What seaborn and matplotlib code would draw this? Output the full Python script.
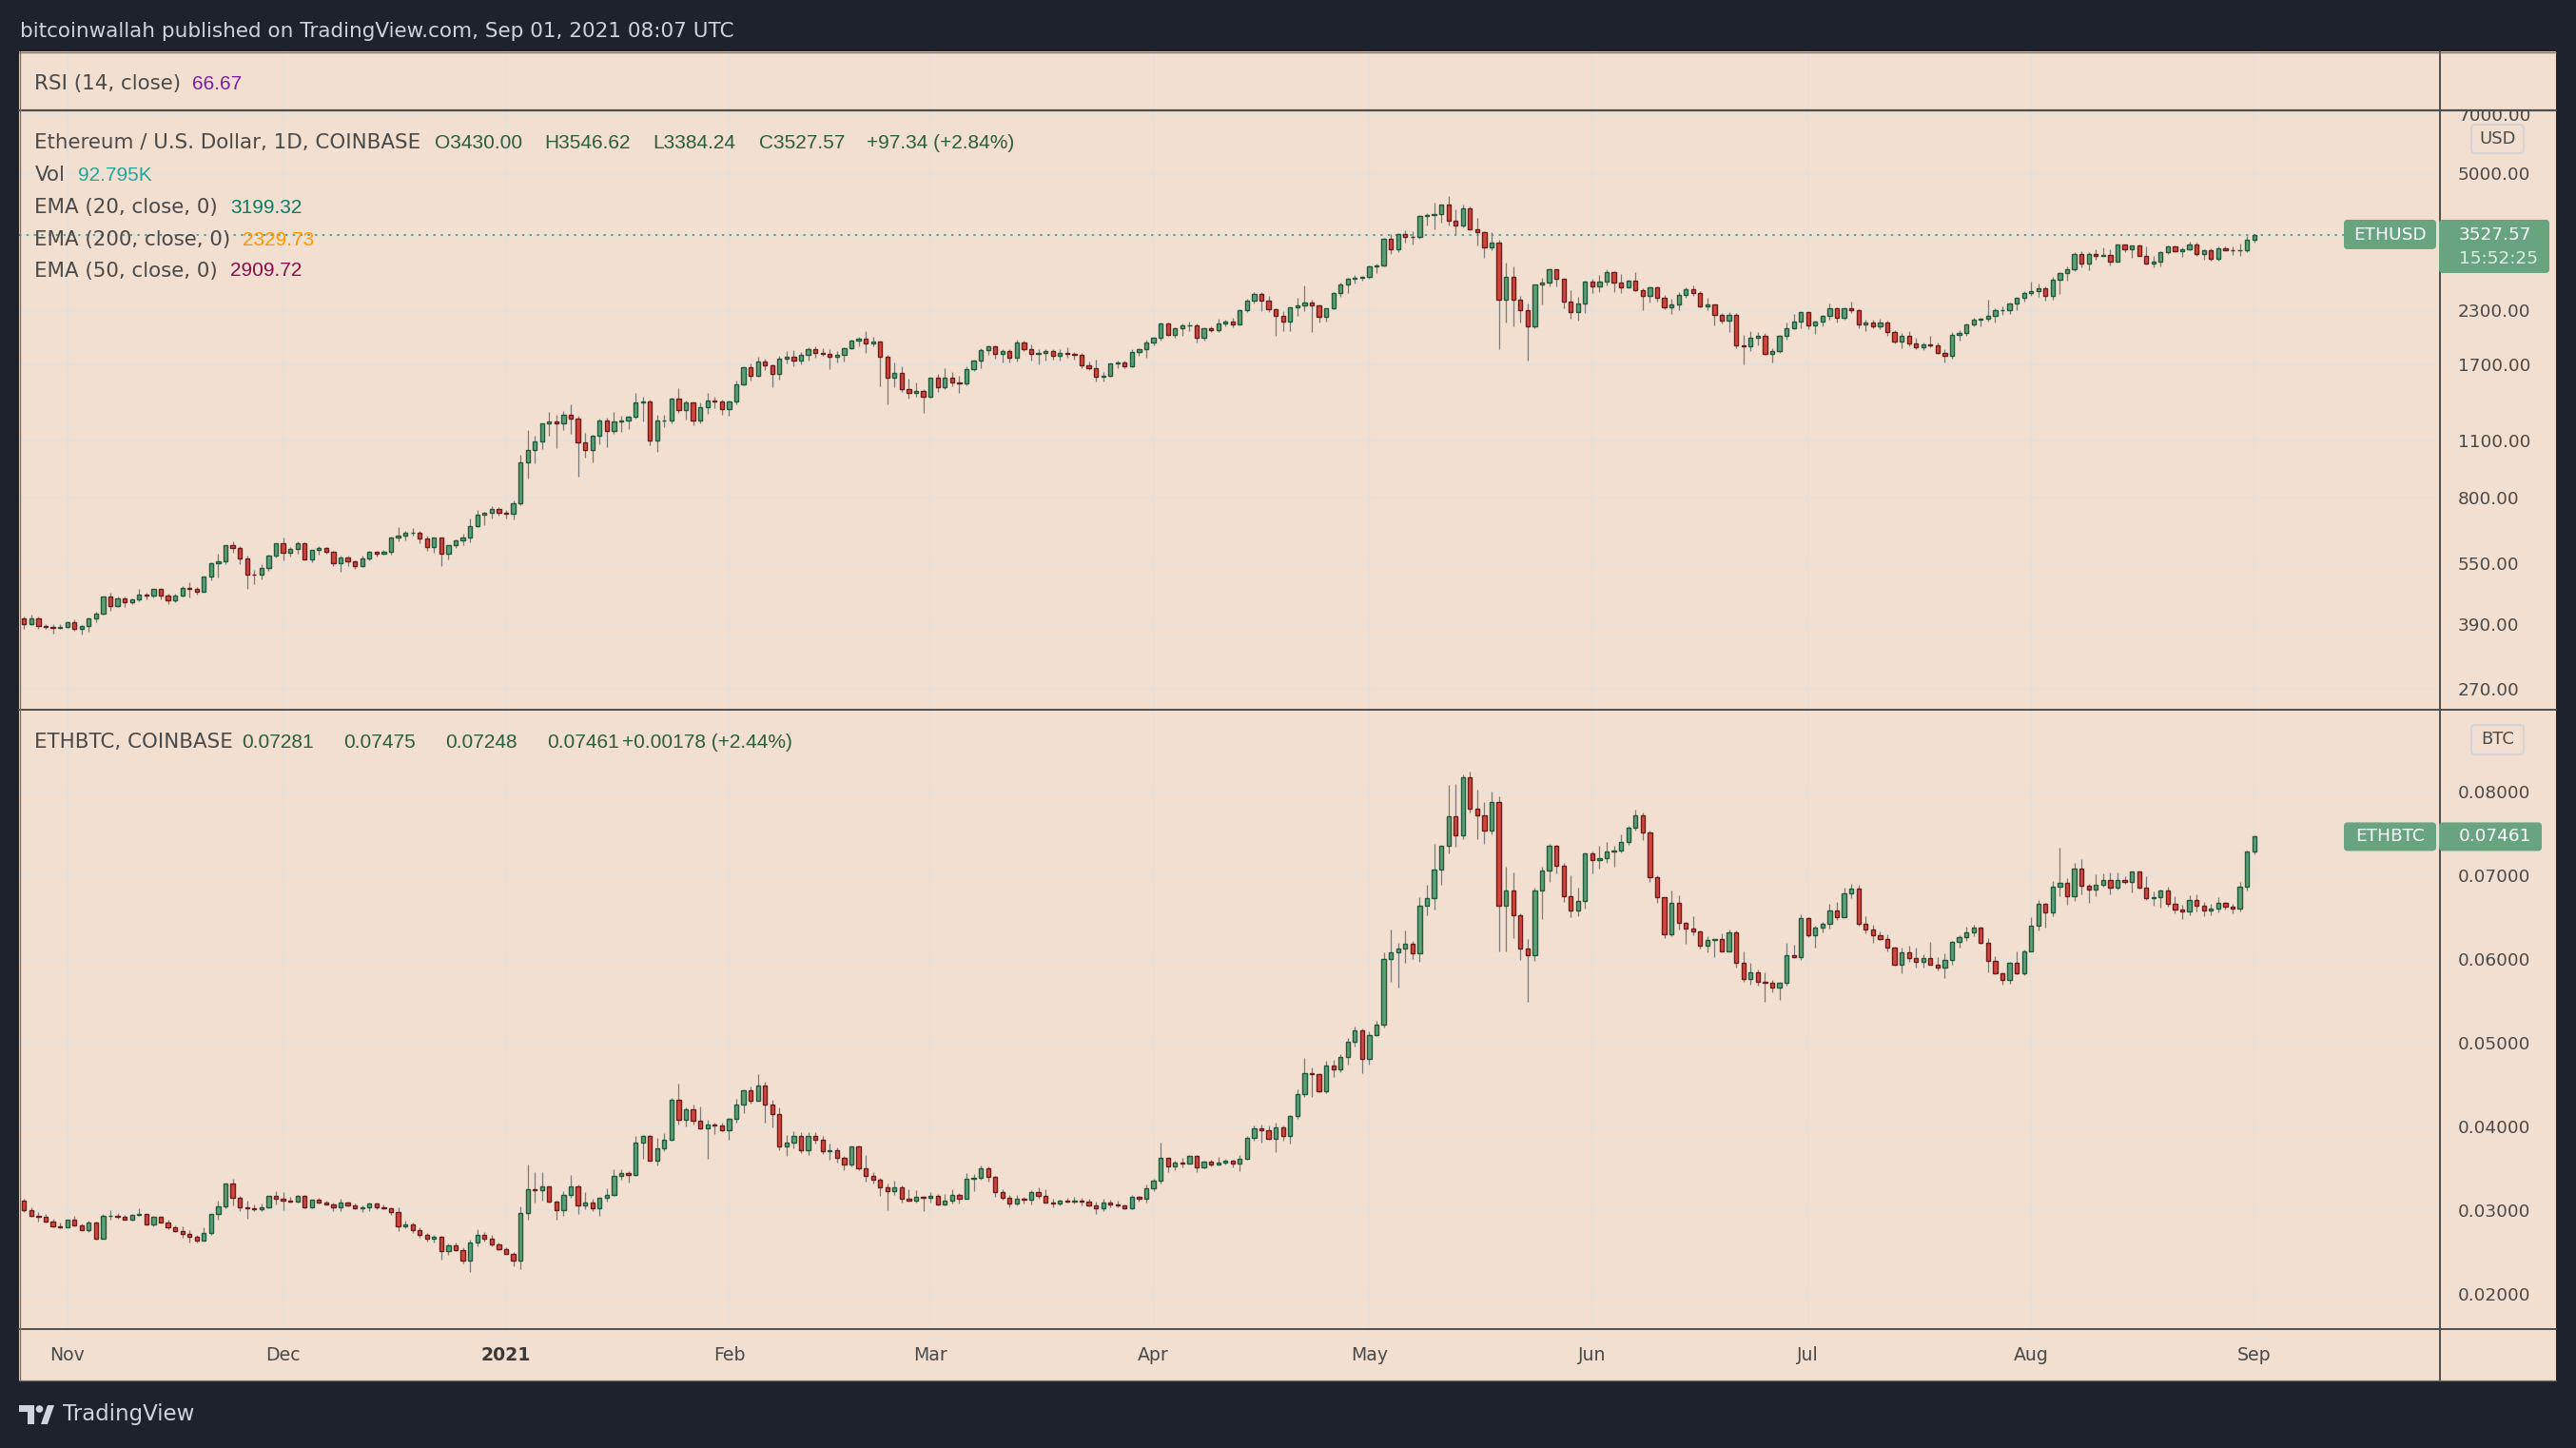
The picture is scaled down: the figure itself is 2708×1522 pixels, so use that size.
import numpy as np
import pandas as pd
import matplotlib
matplotlib.use("Agg")
import matplotlib.pyplot as plt
import seaborn as sns
from matplotlib.patches import Rectangle, FancyBboxPatch, Circle, Polygon
from matplotlib.lines import Line2D
from matplotlib.transforms import IdentityTransform
from matplotlib.ticker import NullLocator, NullFormatter

# ETH/USD daily candles (Coinbase), 26 Oct 2020 -> 1 Sep 2021
usd_first_open = 403
usd_close = [
    390, 402, 387, 384, 381, 385,
    395, 380, 387, 402, 415, 455, 432, 452, 442, 450, 462, 458, 475, 458, 446, 459, 480, 477, 468, 510,
    552, 558, 609, 600, 566, 517, 516, 535, 575, 616,
    584, 596, 616, 563, 595, 599, 587, 550, 570, 556, 542, 567, 589, 581, 586, 636, 642, 653, 655, 634,
    605, 636, 581, 611, 626, 636, 680, 726, 731, 750, 732,
    728, 771, 976, 1043, 1098, 1212, 1225, 1214, 1276, 1247, 1088, 1047, 1131, 1232, 1166, 1225, 1232,
    1259, 1365, 1375, 1104, 1232, 1236, 1398, 1312, 1365, 1236, 1328, 1380, 1375, 1314,
    1372, 1511, 1666, 1592, 1720, 1684, 1610, 1748, 1770, 1736, 1786, 1845, 1812, 1799, 1773, 1789,
    1855, 1936, 1958, 1912, 1933, 1773, 1575, 1620, 1478, 1441, 1456, 1415,
    1569, 1488, 1569, 1533, 1525, 1648, 1730, 1835, 1875, 1796, 1825, 1764, 1923, 1845, 1796, 1812,
    1828, 1776, 1809, 1799, 1786, 1684, 1663, 1581, 1590, 1701, 1711, 1679, 1820, 1851, 1921,
    1973, 2138, 2008, 2077, 2115, 2119, 1969, 2077, 2058, 2134, 2161, 2130, 2300, 2432, 2521, 2428,
    2321, 2234, 2165, 2346, 2367, 2407, 2371, 2215, 2325, 2534, 2669, 2748, 2763, 2778,
    2948, 2964, 3445, 3246, 3538, 3494, 3482, 3926, 3947, 3969, 4181, 3829, 3727, 4100, 3649, 3589,
    3281, 3384, 2441, 2778, 2441, 2300, 2100, 2660, 2698, 2900, 2748, 2416, 2276, 2395, 2708,
    2636, 2703, 2859, 2688, 2626, 2722, 2586, 2502, 2621, 2467, 2341, 2381, 2508, 2590, 2544, 2360,
    2381, 2238, 2167, 2238, 1885, 1881, 1967, 1990, 1803, 1825, 1990, 2084, 2164, 2275,
    2110, 2156, 2226, 2326, 2203, 2326, 2309, 2121, 2149, 2106, 2149, 2032, 1932, 1990, 1912, 1871,
    1894, 1888, 1813, 1784, 2000, 2025, 2127, 2190, 2194, 2230, 2305, 2305, 2389, 2468, 2535,
    2567, 2603, 2504, 2738, 2843, 2903, 3165, 3007, 3165, 3137, 3148, 3038, 3335, 3258, 3323, 3137,
    3007, 3028, 3193, 3300, 3222, 3250, 3335, 3170, 3234, 3087, 3276, 3240, 3228, 3240, 3426,
    3527.57,
]
usd_high = [
    408, 411, 408, 391, 391, 391,
    397, 401, 389, 405, 419, 457, 467, 457, 457, 452, 475, 467, 477, 477, 463, 464, 484, 495, 481, 512,
    555, 580, 609, 622, 606, 574, 529, 547, 577, 616,
    637, 602, 622, 619, 595, 606, 603, 592, 576, 575, 561, 574, 592, 589, 595, 639, 674, 663, 671, 661,
    645, 636, 634, 611, 630, 650, 711, 745, 738, 760, 757,
    745, 787, 1017, 1167, 1135, 1212, 1296, 1274, 1306, 1352, 1265, 1149, 1138, 1248, 1255, 1295, 1268,
    1265, 1444, 1410, 1390, 1274, 1272, 1403, 1482, 1380, 1372, 1365, 1444, 1410, 1388,
    1385, 1547, 1678, 1705, 1770, 1751, 1699, 1783, 1824, 1838, 1818, 1872, 1878, 1858, 1845, 1828,
    1865, 1954, 1986, 2047, 1982, 1936, 1789, 1714, 1678, 1561, 1530, 1472,
    1575, 1604, 1657, 1624, 1586, 1678, 1742, 1855, 1885, 1885, 1851, 1851, 1947, 1940, 1895, 1851,
    1851, 1845, 1845, 1868, 1818, 1805, 1723, 1739, 1624, 1701, 1736, 1734, 1845, 1861, 1948,
    1983, 2150, 2150, 2088, 2142, 2158, 2134, 2088, 2100, 2196, 2181, 2203, 2313, 2458, 2548, 2548,
    2494, 2333, 2292, 2346, 2472, 2650, 2441, 2380, 2333, 2553, 2688, 2763, 2814, 2804,
    2969, 3001, 3463, 3538, 3563, 3617, 3611, 3947, 3990, 4234, 4188, 4398, 4078, 4181, 4144, 3884,
    3595, 3583, 3439, 3018, 2948, 2494, 2390, 2660, 2773, 2916, 2900, 2758, 2582, 2489, 2722,
    2748, 2809, 2900, 2875, 2829, 2732, 2865, 2612, 2636, 2631, 2513, 2459, 2549, 2622, 2650, 2562,
    2468, 2381, 2267, 2275, 2267, 2003, 2047, 2036, 2025, 1857, 2003, 2149, 2254, 2284,
    2284, 2167, 2243, 2394, 2339, 2343, 2415, 2322, 2190, 2190, 2194, 2167, 2055, 2021, 2047, 1971,
    1919, 1990, 1919, 1847, 2036, 2062, 2142, 2207, 2207, 2445, 2330, 2356, 2402, 2477, 2567,
    2708, 2674, 2636, 2783, 2863, 2951, 3204, 3210, 3204, 3253, 3288, 3253, 3347, 3347, 3329, 3347,
    3300, 3131, 3210, 3317, 3317, 3294, 3390, 3378, 3253, 3264, 3300, 3311, 3311, 3353, 3500,
    3546.62,
]
usd_low = [
    380, 388, 379, 379, 370, 379,
    382, 376, 368, 374, 394, 411, 421, 429, 429, 437, 445, 448, 454, 448, 437, 442, 456, 453, 460, 468,
    499, 507, 548, 584, 549, 475, 488, 502, 527, 569,
    559, 571, 581, 562, 555, 578, 580, 541, 526, 541, 532, 539, 559, 571, 578, 577, 622, 625, 642, 616,
    592, 583, 543, 562, 599, 609, 619, 675, 682, 711, 719,
    711, 707, 764, 891, 967, 1049, 1135, 1054, 1167, 1144, 900, 1003, 976, 1080, 1064, 1147, 1160,
    1178, 1248, 1230, 1075, 1036, 1190, 1216, 1288, 1241, 1203, 1216, 1284, 1326, 1274,
    1270, 1353, 1503, 1544, 1581, 1645, 1490, 1558, 1707, 1680, 1698, 1736, 1764, 1780, 1651, 1714,
    1723, 1845, 1878, 1812, 1878, 1498, 1353, 1488, 1454, 1400, 1415, 1290,
    1408, 1454, 1475, 1498, 1441, 1509, 1630, 1663, 1792, 1755, 1717, 1717, 1726, 1828, 1736, 1698,
    1736, 1745, 1730, 1761, 1745, 1657, 1639, 1541, 1541, 1584, 1663, 1662, 1667, 1780, 1763,
    1885, 1945, 1995, 1973, 1995, 2043, 1924, 1941, 2036, 2040, 2104, 2092, 2123, 2284, 2399, 2296,
    2284, 1995, 2047, 2051, 2234, 2296, 2036, 2150, 2165, 2313, 2480, 2544, 2674, 2727,
    2758, 2844, 2948, 3166, 3200, 3378, 3341, 3457, 3720, 3649, 3781, 3720, 3538, 3688, 3636, 3329,
    3104, 3240, 1851, 2154, 2107, 2150, 1730, 2077, 2387, 2640, 2636, 2325, 2196, 2177, 2272,
    2534, 2548, 2655, 2558, 2544, 2616, 2572, 2308, 2403, 2424, 2318, 2258, 2309, 2468, 2499, 2343,
    2305, 2118, 2134, 2040, 1857, 1698, 1825, 1885, 1787, 1716, 1806, 1953, 2073, 2080,
    2073, 2018, 2106, 2190, 2152, 2190, 2267, 2084, 2047, 2077, 2073, 1997, 1912, 1861, 1878, 1850,
    1840, 1871, 1803, 1716, 1755, 1943, 1997, 2106, 2106, 2156, 2152, 2247, 2254, 2309, 2419,
    2499, 2490, 2437, 2450, 2531, 2718, 2868, 2940, 2888, 3059, 3126, 2967, 3038, 3205, 3104, 3126,
    2985, 2940, 2951, 3170, 3205, 3115, 3228, 3131, 3070, 3048, 3053, 3228, 3153, 3137, 3193,
    3384.24,
]

# ETH/BTC daily candles (Coinbase), same dates
btc_first_open = 0.03114
btc_close = [
    0.03004, 0.02936, 0.02924, 0.02867, 0.02810, 0.02795,
    0.02883, 0.02822, 0.02765, 0.02848, 0.02663, 0.02928, 0.02932, 0.02917, 0.02890, 0.02940,
    0.02951, 0.02833, 0.02917, 0.02856, 0.02799, 0.02754, 0.02719, 0.02685, 0.02640, 0.02731,
    0.02951, 0.03042, 0.03314, 0.03152, 0.03038, 0.03027, 0.03015, 0.03034, 0.03167, 0.03133,
    0.03118, 0.03106, 0.03170, 0.03038, 0.03121, 0.03095, 0.03072, 0.03030, 0.03087, 0.03061,
    0.03019, 0.03030, 0.03076, 0.03038, 0.03027, 0.02981, 0.02810, 0.02826, 0.02758, 0.02708,
    0.02663, 0.02678, 0.02515, 0.02580, 0.02527, 0.02402, 0.02614, 0.02701, 0.02663, 0.02591, 0.02538,
    0.02481, 0.02402, 0.02962, 0.03246, 0.03239, 0.03280, 0.03099, 0.02996, 0.03178, 0.03280,
    0.03061, 0.03091, 0.03019, 0.03144, 0.03182, 0.03409, 0.03443, 0.03424, 0.03807, 0.03883,
    0.03595, 0.03735, 0.03837, 0.04318, 0.04083, 0.04201, 0.04072, 0.03974, 0.04019, 0.04011, 0.03958,
    0.04095, 0.04258, 0.04428, 0.04311, 0.04485, 0.04265, 0.04151, 0.03765, 0.03803, 0.03883,
    0.03720, 0.03883, 0.03845, 0.03701, 0.03716, 0.03621, 0.03542, 0.03758, 0.03496, 0.03413,
    0.03360, 0.03277, 0.03223, 0.03269, 0.03140, 0.03117, 0.03155, 0.03144,
    0.03170, 0.03064, 0.03110, 0.03178, 0.03133, 0.03371, 0.03386, 0.03496, 0.03401, 0.03212,
    0.03151, 0.03083, 0.03133, 0.03125, 0.03220, 0.03167, 0.03087, 0.03076, 0.03110, 0.03106,
    0.03117, 0.03102, 0.03061, 0.03019, 0.03087, 0.03068, 0.03061, 0.03019, 0.03155, 0.03133, 0.03258,
    0.03349, 0.03621, 0.03519, 0.03564, 0.03557, 0.03644, 0.03508, 0.03583, 0.03549, 0.03564,
    0.03591, 0.03561, 0.03610, 0.03860, 0.03974, 0.03951, 0.03856, 0.03985, 0.03883, 0.04121,
    0.04383, 0.04633, 0.04625, 0.04417, 0.04724, 0.04686, 0.04833, 0.05008, 0.05144, 0.04803,
    0.05087, 0.05212, 0.05996, 0.06083, 0.06129, 0.06178, 0.06064, 0.06640, 0.06731, 0.07064,
    0.07356, 0.07708, 0.07473, 0.08167, 0.07792, 0.07712, 0.07534, 0.07871, 0.06633, 0.06822,
    0.06519, 0.06121, 0.06042, 0.06818, 0.07053, 0.07349, 0.07110, 0.06754, 0.06576, 0.06690, 0.07258,
    0.07178, 0.07201, 0.07280, 0.07292, 0.07394, 0.07568, 0.07712, 0.07508, 0.06973, 0.06735,
    0.06292, 0.06667, 0.06428, 0.06364, 0.06326, 0.06163, 0.06223, 0.06235, 0.06095, 0.06314,
    0.05958, 0.05765, 0.05837, 0.05731, 0.05720, 0.05663, 0.05712, 0.06042, 0.06027, 0.06485,
    0.06280, 0.06371, 0.06420, 0.06576, 0.06504, 0.06780, 0.06837, 0.06424, 0.06348, 0.06288,
    0.06235, 0.06133, 0.05928, 0.06076, 0.06015, 0.05970, 0.06015, 0.05936, 0.05894, 0.05985,
    0.06201, 0.06258, 0.06314, 0.06371, 0.06189, 0.05973, 0.05826, 0.05746, 0.05951, 0.05826, 0.06095,
    0.06402, 0.06655, 0.06561, 0.06860, 0.06913, 0.06746, 0.07076, 0.06871, 0.06826, 0.06883,
    0.06939, 0.06856, 0.06939, 0.06924, 0.07042, 0.06848, 0.06731, 0.06742, 0.06814, 0.06655,
    0.06595, 0.06572, 0.06701, 0.06640, 0.06583, 0.06598, 0.06667, 0.06629, 0.06606, 0.06860, 0.07284,
    0.07461,
]
btc_high = [
    0.03136, 0.03034, 0.02977, 0.02955, 0.02894, 0.02852,
    0.02883, 0.02932, 0.02841, 0.02875, 0.02860, 0.02955, 0.03000, 0.02962, 0.02940, 0.02955,
    0.03023, 0.02955, 0.02928, 0.02928, 0.02883, 0.02818, 0.02803, 0.02758, 0.02701, 0.02795,
    0.02955, 0.03114, 0.03322, 0.03375, 0.03174, 0.03114, 0.03068, 0.03080, 0.03174, 0.03227,
    0.03216, 0.03155, 0.03182, 0.03182, 0.03121, 0.03144, 0.03118, 0.03087, 0.03133, 0.03102,
    0.03076, 0.03057, 0.03095, 0.03087, 0.03068, 0.03038, 0.03034, 0.02875, 0.02852, 0.02795,
    0.02727, 0.02705, 0.02689, 0.02599, 0.02610, 0.02553, 0.02644, 0.02773, 0.02739, 0.02701, 0.02614,
    0.02557, 0.02500, 0.03042, 0.03545, 0.03455, 0.03455, 0.03292, 0.03118, 0.03227, 0.03420,
    0.03307, 0.03216, 0.03136, 0.03151, 0.03261, 0.03489, 0.03489, 0.03466, 0.03886, 0.03898,
    0.03898, 0.03860, 0.03920, 0.04341, 0.04511, 0.04227, 0.04258, 0.04235, 0.04080, 0.04042, 0.04042,
    0.04102, 0.04326, 0.04443, 0.04477, 0.04625, 0.04534, 0.04318, 0.04227, 0.03898, 0.03939,
    0.03932, 0.03928, 0.03932, 0.03883, 0.03795, 0.03746, 0.03644, 0.03758, 0.03769, 0.03659,
    0.03455, 0.03386, 0.03314, 0.03352, 0.03295, 0.03250, 0.03239, 0.03174,
    0.03212, 0.03197, 0.03189, 0.03250, 0.03208, 0.03439, 0.03432, 0.03534, 0.03523, 0.03409,
    0.03250, 0.03182, 0.03182, 0.03159, 0.03235, 0.03273, 0.03250, 0.03133, 0.03125, 0.03151,
    0.03155, 0.03144, 0.03136, 0.03102, 0.03136, 0.03125, 0.03114, 0.03068, 0.03182, 0.03174, 0.03307,
    0.03379, 0.03807, 0.03629, 0.03591, 0.03621, 0.03659, 0.03659, 0.03591, 0.03602, 0.03637,
    0.03618, 0.03606, 0.03659, 0.03883, 0.04008, 0.04019, 0.04008, 0.04046, 0.04008, 0.04136,
    0.04443, 0.04822, 0.04705, 0.04633, 0.04780, 0.04795, 0.04860, 0.05057, 0.05189, 0.05167,
    0.05136, 0.05258, 0.06080, 0.06352, 0.06193, 0.06341, 0.06216, 0.06735, 0.06886, 0.07375,
    0.07356, 0.08080, 0.08091, 0.08201, 0.08239, 0.08023, 0.07879, 0.08000, 0.07943, 0.07102,
    0.07034, 0.06546, 0.06239, 0.06849, 0.07106, 0.07379, 0.07360, 0.07144, 0.07000, 0.06849, 0.07273,
    0.07284, 0.07352, 0.07398, 0.07352, 0.07485, 0.07591, 0.07784, 0.07746, 0.07534, 0.07000,
    0.06743, 0.06818, 0.06761, 0.06443, 0.06508, 0.06345, 0.06269, 0.06235, 0.06303, 0.06352,
    0.06341, 0.06091, 0.05955, 0.05875, 0.05837, 0.05750, 0.05723, 0.06193, 0.06170, 0.06534,
    0.06496, 0.06398, 0.06443, 0.06659, 0.06682, 0.06852, 0.06898, 0.06886, 0.06511, 0.06409,
    0.06330, 0.06292, 0.06152, 0.06136, 0.06155, 0.06133, 0.06053, 0.06205, 0.06023, 0.06064,
    0.06216, 0.06288, 0.06386, 0.06405, 0.06383, 0.06250, 0.06034, 0.05841, 0.05966, 0.06091, 0.06114,
    0.06500, 0.06705, 0.06670, 0.06932, 0.07330, 0.06962, 0.07148, 0.07193, 0.06898, 0.07008,
    0.07019, 0.07034, 0.07034, 0.06992, 0.07045, 0.07042, 0.06989, 0.06803, 0.06826, 0.06864,
    0.06746, 0.06644, 0.06761, 0.06773, 0.06678, 0.06659, 0.06739, 0.06682, 0.06659, 0.06924, 0.07299,
    0.07475,
]
btc_low = [
    0.02977, 0.02924, 0.02867, 0.02848, 0.02795, 0.02788,
    0.02795, 0.02803, 0.02758, 0.02739, 0.02648, 0.02659, 0.02886, 0.02898, 0.02886, 0.02875,
    0.02936, 0.02829, 0.02810, 0.02852, 0.02773, 0.02742, 0.02670, 0.02617, 0.02617, 0.02640,
    0.02705, 0.02890, 0.03027, 0.03057, 0.02993, 0.02901, 0.02993, 0.02993, 0.03019, 0.03068,
    0.03000, 0.03095, 0.03095, 0.03027, 0.03027, 0.03083, 0.03064, 0.02993, 0.02993, 0.03046,
    0.03008, 0.02981, 0.02993, 0.03015, 0.03008, 0.02947, 0.02750, 0.02788, 0.02727, 0.02670,
    0.02625, 0.02614, 0.02409, 0.02466, 0.02511, 0.02368, 0.02265, 0.02568, 0.02625, 0.02568, 0.02523,
    0.02473, 0.02333, 0.02295, 0.02890, 0.03095, 0.03118, 0.03095, 0.02890, 0.02936, 0.03152,
    0.02958, 0.03015, 0.02985, 0.02936, 0.03106, 0.03167, 0.03364, 0.03333, 0.03409, 0.03614,
    0.03587, 0.03534, 0.03708, 0.03830, 0.04027, 0.04004, 0.04023, 0.03970, 0.03617, 0.03913, 0.03943,
    0.03845, 0.04049, 0.04159, 0.04273, 0.04307, 0.04045, 0.03989, 0.03720, 0.03648, 0.03742,
    0.03686, 0.03659, 0.03799, 0.03674, 0.03602, 0.03572, 0.03477, 0.03527, 0.03474, 0.03345,
    0.03322, 0.03174, 0.03000, 0.03182, 0.03095, 0.03106, 0.03095, 0.02992,
    0.03091, 0.03053, 0.03061, 0.03083, 0.03076, 0.03133, 0.03231, 0.03360, 0.03345, 0.03163,
    0.03129, 0.03034, 0.03061, 0.03080, 0.03068, 0.03136, 0.03087, 0.03038, 0.03061, 0.03087,
    0.03080, 0.03053, 0.03045, 0.02951, 0.02985, 0.03030, 0.03034, 0.03011, 0.03011, 0.03099, 0.03091,
    0.03231, 0.03314, 0.03458, 0.03481, 0.03515, 0.03553, 0.03458, 0.03496, 0.03523, 0.03538,
    0.03542, 0.03515, 0.03470, 0.03606, 0.03826, 0.03811, 0.03837, 0.03697, 0.03826, 0.03799,
    0.04095, 0.04349, 0.04349, 0.04405, 0.04394, 0.04587, 0.04644, 0.04739, 0.04951, 0.04640,
    0.04735, 0.05076, 0.05178, 0.05724, 0.05663, 0.05958, 0.06000, 0.05970, 0.06527, 0.06595,
    0.06890, 0.07265, 0.07337, 0.07436, 0.07750, 0.07436, 0.07379, 0.07489, 0.06095, 0.06095,
    0.06254, 0.05993, 0.05492, 0.05981, 0.06481, 0.06924, 0.07027, 0.06686, 0.06496, 0.06508, 0.06599,
    0.07027, 0.07084, 0.07152, 0.07106, 0.07273, 0.07360, 0.07538, 0.07424, 0.06924, 0.06667,
    0.06254, 0.06273, 0.06348, 0.06186, 0.06288, 0.06129, 0.06083, 0.06027, 0.06087, 0.06087,
    0.05902, 0.05731, 0.05693, 0.05686, 0.05492, 0.05606, 0.05515, 0.05686, 0.06011, 0.05992,
    0.06258, 0.06140, 0.06318, 0.06360, 0.06466, 0.06500, 0.06731, 0.06402, 0.06311, 0.06197,
    0.06223, 0.06091, 0.05920, 0.05833, 0.05962, 0.05902, 0.05902, 0.05928, 0.05867, 0.05776,
    0.05932, 0.06133, 0.06216, 0.06277, 0.06186, 0.05845, 0.05818, 0.05697, 0.05708, 0.05814, 0.05803,
    0.06091, 0.06345, 0.06375, 0.06515, 0.06754, 0.06652, 0.06693, 0.06773, 0.06674, 0.06750,
    0.06864, 0.06773, 0.06826, 0.06898, 0.06795, 0.06841, 0.06705, 0.06640, 0.06614, 0.06621,
    0.06549, 0.06477, 0.06523, 0.06568, 0.06515, 0.06527, 0.06561, 0.06587, 0.06549, 0.06572, 0.06818,
    0.07248,
]

usd_ticks = [270, 390, 550, 800, 1100, 1700, 2300, 3500, 5000, 7000]
usd_tick_labels = ["270.00", "390.00", "550.00", "800.00", "1100.00", "1700.00", "2300.00", "",
                   "5000.00", "7000.00"]
btc_ticks = [0.02, 0.03, 0.04, 0.05, 0.06, 0.07, 0.08]
month_labels = ["Nov", "Dec", "2021", "Feb", "Mar", "Apr", "May", "Jun", "Jul", "Aug", "Sep"]

dates = pd.date_range("2020-10-26", "2021-09-01", freq="D")
origin = pd.Timestamp("2020-11-01")
x = np.asarray((dates - origin).days, dtype=float)
months = pd.date_range("2020-11-01", "2021-09-01", freq="MS")
mx = np.asarray((months - origin).days, dtype=float)
for arr in (usd_close, usd_high, usd_low, btc_close, btc_high, btc_low):
    assert len(arr) == len(x), len(arr)

# crypto trades around the clock: each day opens at the previous close
usd_c = np.array(usd_close, float)
usd_o = np.r_[usd_first_open, usd_c[:-1]]
btc_c = np.array(btc_close, float)
btc_o = np.r_[btc_first_open, btc_c[:-1]]

W, H = 2708, 1522
DARK = "#1e222d"
BG = "#f2dfcf"
GRID = "#e5e0dc"
TXT = "#4a4a4a"
SEP = "#4e4e4e"
UP_FILL, UP_EDGE = "#5e9f79", "#1f5a3a"
DN_FILL, DN_EDGE = "#d4463a", "#6b1c1c"
WICK = "#7a7a7a"
LABEL_GREEN = "#68a480"
VAL_GREEN = "#2b5e3e"
VAL_FONT = ["Liberation Sans", "DejaVu Sans"]

sns.set_theme(style="white")
plt.rcParams["font.family"] = ["DejaVu Sans"]

fig = plt.figure(figsize=(W / 100, H / 100), dpi=100, facecolor=DARK)


def frac(x0, y0, x1, y1):
    return [x0 / W, 1 - y1 / H, (x1 - x0) / W, (y1 - y0) / H]


def prect(x0, y0, x1, y1, **kw):
    r = Rectangle((x0, H - y1), x1 - x0, y1 - y0, transform=IdentityTransform(), **kw)
    fig.add_artist(r)
    return r


def pbox(x0, y0, x1, y1, **kw):
    b = FancyBboxPatch((x0, H - y1), x1 - x0, y1 - y0, boxstyle="round,pad=0,rounding_size=4",
                       transform=IdentityTransform(), **kw)
    fig.add_artist(b)
    return b


def pline(x0, y0, x1, y1, **kw):
    fig.add_artist(Line2D([x0, x1], [H - y0, H - y1], transform=IdentityTransform(), **kw))


def ptext(xp, yp, s, color=TXT, size=15.4, **kw):
    kw.setdefault("va", "center")
    fig.text(xp / W, 1 - yp / H, s, color=color, fontsize=size, **kw)


def pval(xp, yp, s, color=VAL_GREEN):
    ptext(xp, yp, s, color=color, size=15.0, family=VAL_FONT)


# peach frame
prect(20, 54, 2687, 1451, facecolor=BG, edgecolor="none", zorder=-20)

XL = (-6.70, 329.83)
ax_rsi = fig.add_axes(frac(20, 54, 2565, 115))
ax1 = fig.add_axes(frac(20, 117, 2565, 745))
ax2 = fig.add_axes(frac(20, 747, 2565, 1396))

for ax in (ax_rsi, ax1, ax2):
    ax.set_facecolor(BG)
    ax.set_xlim(*XL)
    ax.set_xticks(mx)
    ax.grid(True, color=GRID, linewidth=1.45)
    ax.set_axisbelow(True)
    for s in ax.spines.values():
        s.set_visible(False)
    ax.tick_params(length=0, colors=TXT)

ax_rsi.set_yticks([])
ax_rsi.set_xticklabels([])


def draw_candles(ax, o, h, l, c):
    h = np.maximum(np.array(h, float), np.maximum(o, c))
    l = np.minimum(np.array(l, float), np.minimum(o, c))
    up = c >= o
    ax.vlines(x, l, h, colors=WICK, linewidth=0.9, zorder=2)
    lo = np.minimum(o, c)
    hi = np.maximum(o, c)
    for mask, face, edge in ((up, UP_FILL, UP_EDGE), (~up, DN_FILL, DN_EDGE)):
        ax.bar(x[mask], (hi - lo)[mask], bottom=lo[mask], width=0.56, color=face,
               edgecolor=edge, linewidth=1.0, zorder=3)


ax1.set_yscale("log")
draw_candles(ax1, usd_o, usd_high, usd_low, usd_c)
ax1.set_ylim(241.7, 7099)
ax1.yaxis.set_minor_locator(NullLocator())
ax1.yaxis.set_minor_formatter(NullFormatter())
ax1.set_yticks(usd_ticks)
ax1.set_yticklabels(usd_tick_labels)
ax1.yaxis.tick_right()
ax1.tick_params(axis="y", pad=13.7, labelsize=13.3, labelcolor=TXT)
ax1.set_xticklabels([])
ax1.axhline(usd_close[-1], xmin=0, xmax=(2464 - 20) / 2545, color="#5f9f78",
            linestyle=(0, (1.2, 2.8)), linewidth=1.4, zorder=1)

draw_candles(ax2, btc_o, btc_high, btc_low, btc_c)
ax2.set_ylim(0.01591, 0.08966)
ax2.set_yticks(btc_ticks)
ax2.set_yticklabels([f"{t:.5f}" for t in btc_ticks])
ax2.yaxis.tick_right()
ax2.tick_params(axis="y", pad=13.7, labelsize=13.3, labelcolor=TXT)
ax2.set_xticklabels(month_labels)
ax2.tick_params(axis="x", pad=13.5, labelsize=13.6, labelcolor=TXT)
for lab in ax2.get_xticklabels():
    if lab.get_text() == "2021":
        lab.set_fontweight("bold")
        lab.set_color("#3a3a3a")

# cover the part of the top price label that runs into the RSI pane
prect(2566, 54, 2687, 117, facecolor=BG, edgecolor="none", zorder=4)

# pane separators and frame
pline(20, 115.5, 2687, 115.5, color=SEP, linewidth=1.6, zorder=6)
pline(20, 746, 2687, 746, color=SEP, linewidth=1.4, zorder=6)
pline(20, 1396.5, 2687, 1396.5, color=SEP, linewidth=1.4, zorder=6)
pline(2565, 54, 2565, 1451, color=SEP, linewidth=1.4, zorder=6)
pline(20, 54.5, 2687, 54.5, color="#6c6c6c", linewidth=0.9, zorder=6)
pline(20, 1450.5, 2687, 1450.5, color="#6c6c6c", linewidth=0.9, zorder=6)
pline(20.5, 54, 20.5, 1451, color="#6c6c6c", linewidth=0.9, zorder=6)

# currency badges
pbox(2598, 131, 2653, 161, facecolor="none", edgecolor="#cfd3dc", linewidth=1.3, zorder=7)
ptext(2625.5, 146, "USD", size=13, ha="center", zorder=8)
pbox(2598, 762, 2653, 793, facecolor="none", edgecolor="#cfd3dc", linewidth=1.3, zorder=7)
ptext(2625.5, 777.5, "BTC", size=13, ha="center", zorder=8)

# last price labels on the scales
y_usd = H - ax1.transData.transform((0, usd_close[-1]))[1]
pbox(2464, y_usd - 16, 2561, y_usd + 15, facecolor=LABEL_GREEN, edgecolor="none", zorder=7)
ptext(2512.5, y_usd, "ETHUSD", color="white", size=13.3, ha="center", zorder=8)
pbox(2564, y_usd - 16, 2680, y_usd + 40, facecolor=LABEL_GREEN, edgecolor="none", zorder=7)
ptext(2585, y_usd, f"{usd_close[-1]:.2f}", color="white", size=13.3, zorder=8)
ptext(2585, y_usd + 25, "15:52:25", color="#dcefe3", size=13.3, zorder=8)

y_btc = H - ax2.transData.transform((0, btc_close[-1]))[1]
pbox(2464, y_btc - 15, 2561, y_btc + 15, facecolor=LABEL_GREEN, edgecolor="none", zorder=7)
ptext(2512.5, y_btc, "ETHBTC", color="white", size=13.3, ha="center", zorder=8)
pbox(2564, y_btc - 15, 2672, y_btc + 15, facecolor=LABEL_GREEN, edgecolor="none", zorder=7)
ptext(2585, y_btc, f"{btc_close[-1]:.5f}", color="white", size=13.3, zorder=8)

# header / legends
ptext(21, 33, "bitcoinwallah published on TradingView.com, Sep 01, 2021 08:07 UTC",
      color="#cfd2da", size=15.5)
ptext(36.5, 88, "RSI (14, close)")
pval(202, 88, "66.67", color="#7b1fa2")

ptext(36.5, 150, "Ethereum / U.S. Dollar, 1D, COINBASE")
for xp, s in ((457, "O3430.00"), (572, "H3546.62"), (686, "L3384.24"), (798, "C3527.57"),
              (911, "+97.34 (+2.84%)")):
    pval(xp, 150, s)
ptext(36.5, 184, "Vol")
pval(82, 184, "92.795K", color="#26a69a")
ptext(36.5, 218, "EMA (20, close, 0)")
pval(242, 218, "3199.32", color="#0b7a68")
ptext(36.5, 252, "EMA (200, close, 0)")
pval(255, 252, "2329.73", color="#ff9800")
ptext(36.5, 285, "EMA (50, close, 0)")
pval(242, 285, "2909.72", color="#880e4f")

ptext(36, 780.5, "ETHBTC, COINBASE")
for xp, s in ((254, "0.07281"), (361, "0.07475"), (468, "0.07248"), (575, "0.07461"),
              (654, "+0.00178 (+2.44%)")):
    pval(xp, 780.5, s)

# footer logo
LOGO = "#d1d4dc"
prect(20, 1477, 36, 1484, facecolor=LOGO, edgecolor="none")
prect(29, 1477, 36, 1497, facecolor=LOGO, edgecolor="none")
fig.add_artist(Circle((41.5, H - 1481), 3.8, transform=IdentityTransform(), facecolor=LOGO,
                      edgecolor="none"))
fig.add_artist(Polygon([(43, H - 1497), (50, H - 1477), (57, H - 1477), (50, H - 1497)],
                       closed=True, transform=IdentityTransform(), facecolor=LOGO,
                       edgecolor="none"))
ptext(66, 1487, "TradingView", color=LOGO, size=16.5)

fig.savefig("out.png", dpi=100, facecolor=DARK)
